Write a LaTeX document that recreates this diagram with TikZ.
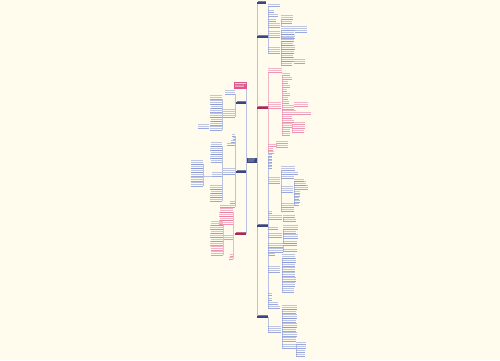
\documentclass[tikz,border=0pt]{standalone}
\definecolor{bg}{HTML}{FFFCEE}
\definecolor{bt}{HTML}{7F90D4}
\definecolor{bu}{HTML}{9AA8DE}
\definecolor{bc}{HTML}{B9C1E2}
\definecolor{rt}{HTML}{E8709A}
\definecolor{ru}{HTML}{EC94B4}
\definecolor{rc}{HTML}{F2B6CB}
\definecolor{nv}{HTML}{3A4680}
\definecolor{dr}{HTML}{A82A58}
\definecolor{pk}{HTML}{E0568A}
% text block: x1 x2 y(underline) nlines colourprefix
\newcommand\mmT[5]{%
  \foreach \k in {1,...,#4}{\fill[#5t,fill opacity=.5] ({#1+0.4},{#3-0.9-(\k-1)*2.2}) rectangle ({#2-0.4},{#3-1.7-(\k-1)*2.2});}
  \draw[#5u,line width=.35] (#1,#3) -- (#2,#3);}
% vertical connector: x y1 y2 colourprefix
\newcommand\mmV{}
\renewcommand\mmV[4]{\draw[#4c,line width=.5] (#1,#2) -- (#1,#3);}
% first level: x1 x2 y colour
\newcommand\mmH[4]{%
  \fill[#4,fill opacity=.7] ({#1+0.5},{#3-1.2}) rectangle ({#2-0.5},{#3-2.1});
  \draw[#4,line width=1.1] (#1,#3) -- (#2,#3);}
\begin{document}
\begin{tikzpicture}[x=1pt,y=-1pt]
\fill[bg] (0,0) rectangle (500,360);
\useasboundingbox (0,0) rectangle (500,360);
% centre
\node[fill=nv,minimum width=10pt,minimum height=5pt,inner sep=0pt] (C) at (251.5,160) {};
\fill[white,fill opacity=.6] (248,158.6) rectangle (255,159.3) (248,160.7) rectangle (254,161.4);
% trunks
\coordinate (RT) at (257,160);
\coordinate (LT) at (246,160);
\draw[bc,line width=.6] (C.east) -- (RT);
\draw[bc,line width=.6] (C.west) -- (LT);
\mmV{257}{3}{317}{b}
\mmV{246}{85}{234}{b}
% right first level
\mmH{257}{266}{3}{nv}
\mmH{257}{268}{37}{nv}
\mmH{257}{268}{108}{dr}
\mmH{257}{268}{226}{nv}
\mmH{257}{268}{317}{nv}
% left first level
\fill[pk] (234,81.5) rectangle (247,88.5);
\fill[white,fill opacity=.7] (235,83) rectangle (246,84) (235,85.5) rectangle (244,86.5);
\mmH{236}{246}{103}{nv}
\mmH{236}{246}{172}{nv}
\mmH{235}{246}{234}{dr}

% ---- R2 ----
\mmV{268}{6}{53}{b}
\foreach \y/\w/\n in {6/12/1,12/6/1,16/10/1,21/8/1,27/12/2,37/12/3,53/12/3}{\mmT{268}{268+\w}{\y}{\n}{b}}
\mmV{281}{19}{27}{b}
\foreach \y/\w/\n in {19/12/2,23/11/1}{\mmT{281}{281+\w}{\y}{\n}{b}}
\mmV{281}{30}{38}{b}
\foreach \y/\w/\n in {30/14/2,34/13/1,38/14/2}{\mmT{281}{281+\w}{\y}{\n}{b}}
\mmT{295}{307}{32}{3}{b}
\mmV{281}{41}{65}{b}
\foreach \y/\w/\n in {41/13/2,45/12/2,49/14/2,53/13/2,57/12/2,61/13/2,65/11/2}{\mmT{281}{281+\w}{\y}{\n}{b}}
\mmT{294}{305}{63}{2}{b}

% ---- R3 ----
\mmV{268}{72}{153}{r}
\mmT{268}{282}{72}{2}{r}
\mmT{268}{281}{108}{3}{r}
\mmV{282}{75}{135}{r}
\foreach \y/\w/\n in {75/8/1,79/10/1,83/6/1,87/8/1,91/5/1,95/8/1,99/6/1,103/7/1,109/12/2,114/14/2,118/10/1,122/12/1,127/10/2,131/8/1,135/8/1}{\mmT{282}{282+\w}{\y}{\n}{r}}
\mmT{294}{308}{106}{2}{r}
\mmT{296}{311}{114}{1}{r}
\mmV{292}{124}{132}{r}
\foreach \y/\w in {124/13,128/13,132/12}{\mmT{292}{292+\w}{\y}{1}{r}}
\mmT{268}{276}{146}{1}{r}
\mmV{276}{143}{147}{r}
\mmT{276}{288}{143}{1}{r}
\mmT{276}{288}{147}{1}{r}
\mmT{268}{273}{150}{1}{r}
\mmT{268}{274}{153}{1}{r}

% ---- R4 ----
\mmV{268}{156}{308}{b}
\foreach \y in {156,159,162,165,168}{\mmT{268}{272}{\y}{1}{b}}
\mmT{268}{280}{183}{3}{b}
\mmV{281}{170}{211}{b}
\foreach \y/\w/\n in {170/14/2,174/17/1,178/13/1,192/12/3,207/13/2,211/13/1}{\mmT{281}{281+\w}{\y}{\n}{b}}
\mmV{294}{181}{205}{b}
\foreach \y/\w/\n in {181/10/1,185/12/2,189/14/2,193/6/1,196/6/1,199/5/1,202/6/1,205/5/1}{\mmT{294}{294+\w}{\y}{\n}{b}}
\mmT{268}{272}{213}{1}{b}
\mmT{268}{282}{219}{2}{b}
\mmV{283}{217}{221}{b}
\mmT{283}{295}{217}{1}{b}
\mmT{283}{296}{221}{1}{b}
\mmT{268}{278}{229}{1}{b}
\mmT{268}{282}{237}{2}{b}
\mmV{283}{229}{243}{b}
\foreach \y/\w/\n in {229/15/2,233/13/1,238/15/2,243/14/1}{\mmT{283}{283+\w}{\y}{\n}{b}}
\mmT{268}{283}{247}{2}{b}
\mmT{268}{283}{252}{2}{b}
\mmV{283}{245}{251}{b}
\mmT{283}{297}{245}{1}{b}
\mmT{283}{297}{251}{1}{b}
\mmT{268}{275}{255}{1}{b}
\mmT{268}{280}{272}{3}{b}
\mmV{282}{258}{292}{b}
\foreach \y/\w in {258/13,262/14,266/13,271/13,276/13,281/14,286/13,292/12}{\mmT{282}{282+\w}{\y}{2}{b}}
\foreach \y/\w in {295/4,300/4,304/10,308/12}{\mmT{268}{268+\w}{\y}{1}{b}}

% ---- R5 ----
\mmV{268}{317}{332}{b}
\mmT{268}{281}{332}{3}{b}
\mmV{282}{309}{348}{b}
\foreach \y/\w in {309/15,313/14,318/15,322/14,327/15,331/14,336/15,341/14,348/14}{\mmT{282}{282+\w}{\y}{2}{b}}
\mmV{296}{344}{356}{b}
\foreach \y/\w in {344/10,348/10,352/9,356/9}{\mmT{296}{296+\w}{\y}{1}{b}}

% ---- L1 ----
\mmV{235}{94}{117}{b}
\mmT{225}{235}{94}{2}{b}
\mmT{223}{235}{117}{4}{b}
\mmV{222}{99}{130}{b}
\foreach \y/\w in {99/12,104/12,108/11,112/12,117/12,121/11,125/12,130/12}{\mmT{222-\w}{222}{\y}{2}{b}}
\mmT{198}{209}{128}{2}{b}

% ---- L2 ----
\mmV{235}{136}{207}{b}
\foreach \y/\w in {136/3,139/2,142/4,145/8}{\mmT{235-\w}{235}{\y}{1}{b}}
\mmT{223}{235}{174}{3}{b}
\mmV{222}{146}{201}{b}
\foreach \y/\w in {146/11,150/12,154/11,158/12,162/11,189/12,193/11,197/12,201/12}{\mmT{222-\w}{222}{\y}{2}{b}}
\mmT{212}{222}{176}{2}{b}
\mmV{203}{164}{186}{b}
\draw[bc,line width=.5] (203,176) -- (212,176);
\foreach \y in {164,168,172,176,181,186}{\mmT{191}{203}{\y}{2}{b}}
\mmT{230}{235}{203}{1}{b}
\mmT{220}{235}{207}{1}{b}

% ---- L3 ----
\mmV{233}{212}{259}{r}
\foreach \y/\w in {212/13,216/14,220/13,224/14}{\mmT{233-\w}{233}{\y}{2}{r}}
\mmT{224}{233}{239}{2}{r}
\mmV{223}{225}{255}{r}
\foreach \y/\w in {225/12,229/13,233/12,237/13,241/12,245/13,250/12,255/12}{\mmT{223-\w}{223}{\y}{2}{r}}
\mmT{230}{233}{256}{1}{r}
\mmT{229}{233}{259}{1}{r}
\end{tikzpicture}
\end{document}
